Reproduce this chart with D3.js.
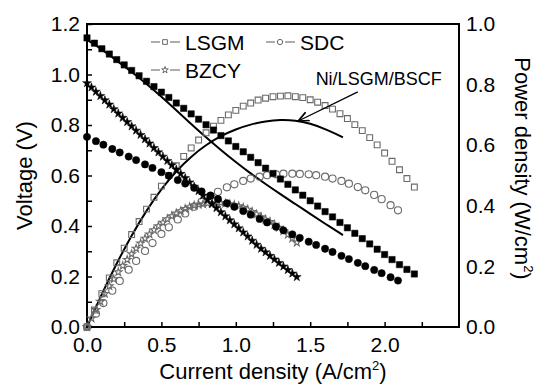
<!DOCTYPE html>
<html>
<head>
<meta charset="utf-8">
<script src="https://cdn.jsdelivr.net/npm/d3@7"></script>
<style>
  body { margin: 0; background: #fff; }
  svg text { font-family: "Liberation Sans", Arial, sans-serif; fill: #000; }
</style>
</head>
<body>
<div id="chart_container"></div>
<script>
// data (current density in A/cm2)
var lsgmI = [0, 0.05, 0.1, 0.15, 0.2, 0.25, 0.3, 0.35, 0.4, 0.45, 0.5, 0.55, 0.6, 0.65, 0.7, 0.75, 0.8, 0.85, 0.9, 0.95,
    1.0, 1.05, 1.1, 1.15, 1.2, 1.25, 1.3, 1.35, 1.4, 1.45, 1.5, 1.55, 1.6, 1.65, 1.7, 1.75, 1.8, 1.85, 1.9, 1.95,
    2.0, 2.05, 2.1, 2.15, 2.2];
var lsgmV = [1.145, 1.124, 1.102, 1.081, 1.059, 1.038, 1.016, 0.995, 0.973, 0.952, 0.930, 0.909, 0.887, 0.866, 0.844, 0.823, 0.801, 0.780, 0.758, 0.737,
    0.715, 0.694, 0.672, 0.651, 0.629, 0.608, 0.586, 0.565, 0.543, 0.522, 0.500, 0.479, 0.457, 0.436, 0.414, 0.393, 0.371, 0.350, 0.329, 0.308,
    0.287, 0.267, 0.247, 0.228, 0.210];
var lsgmP = [0, 0.056, 0.110, 0.162, 0.212, 0.260, 0.305, 0.348, 0.389, 0.428, 0.465, 0.500, 0.532, 0.563, 0.591, 0.617, 0.641, 0.663, 0.682, 0.700,
    0.715, 0.729, 0.739, 0.749, 0.755, 0.760, 0.762, 0.763, 0.760, 0.757, 0.750, 0.742, 0.731, 0.719, 0.704, 0.688, 0.668, 0.648, 0.625, 0.601,
    0.574, 0.547, 0.519, 0.490, 0.462];

var sdcI = [0, 0.06, 0.11, 0.17, 0.22, 0.28, 0.33, 0.39, 0.44, 0.5, 0.55, 0.61, 0.66, 0.72, 0.77, 0.83, 0.88, 0.94, 0.99, 1.05,
    1.1, 1.16, 1.21, 1.27, 1.32, 1.38, 1.43, 1.49, 1.54, 1.6, 1.65, 1.71, 1.76, 1.82, 1.87, 1.93, 1.98, 2.04, 2.09];
var sdcV = [0.753, 0.736, 0.722, 0.705, 0.691, 0.675, 0.661, 0.644, 0.630, 0.613, 0.599, 0.582, 0.568, 0.551, 0.537, 0.521, 0.507, 0.490, 0.476, 0.459,
    0.445, 0.428, 0.414, 0.397, 0.383, 0.367, 0.353, 0.338, 0.325, 0.310, 0.297, 0.282, 0.269, 0.254, 0.241, 0.226, 0.213, 0.197, 0.184];
var sdcP = [0, 0.044, 0.079, 0.120, 0.152, 0.189, 0.218, 0.251, 0.277, 0.307, 0.329, 0.355, 0.375, 0.397, 0.413, 0.432, 0.446, 0.461, 0.471, 0.482,
    0.490, 0.496, 0.501, 0.504, 0.506, 0.506, 0.505, 0.504, 0.501, 0.496, 0.490, 0.482, 0.473, 0.462, 0.451, 0.436, 0.422, 0.402, 0.385];

var bzcyI = [0, 0.03, 0.06, 0.09, 0.12, 0.15, 0.18, 0.21, 0.24, 0.27, 0.3, 0.33, 0.36, 0.39, 0.42, 0.45, 0.48, 0.51, 0.54, 0.57,
    0.6, 0.63, 0.66, 0.69, 0.72, 0.75, 0.78, 0.81, 0.84, 0.87, 0.9, 0.93, 0.96, 0.99, 1.02, 1.05, 1.08, 1.11, 1.14, 1.17,
    1.2, 1.23, 1.26, 1.29, 1.32, 1.35, 1.38, 1.41];
var bzcyV = [0.966, 0.949, 0.932, 0.915, 0.898, 0.881, 0.863, 0.846, 0.829, 0.812, 0.795, 0.778, 0.761, 0.744, 0.727, 0.709, 0.692, 0.675, 0.658, 0.641,
    0.624, 0.607, 0.590, 0.573, 0.556, 0.539, 0.521, 0.504, 0.487, 0.471, 0.455, 0.439, 0.423, 0.407, 0.391, 0.375, 0.359, 0.342, 0.326, 0.310,
    0.296, 0.282, 0.268, 0.254, 0.240, 0.226, 0.212, 0.198];
var bzcyP = [0, 0.029, 0.057, 0.084, 0.110, 0.135, 0.158, 0.181, 0.202, 0.222, 0.241, 0.259, 0.276, 0.292, 0.306, 0.320, 0.333, 0.345, 0.356, 0.366,
    0.375, 0.383, 0.390, 0.396, 0.401, 0.404, 0.406, 0.408, 0.409, 0.410, 0.410, 0.408, 0.406, 0.403, 0.399, 0.394, 0.388, 0.380, 0.372, 0.363,
    0.355, 0.347, 0.338, 0.328, 0.317, 0.305, 0.293, 0.279];

var niI = [0, 0.1, 0.2, 0.3, 0.4, 0.5, 0.6, 0.7, 0.8, 0.9, 1.0, 1.1, 1.2, 1.3, 1.4, 1.5, 1.6, 1.72];
var niV = [1.137, 1.100, 1.055, 1.010, 0.963, 0.912, 0.858, 0.804, 0.751, 0.701, 0.653, 0.608, 0.566, 0.526, 0.487, 0.448, 0.409, 0.364];
var niP = [0, 0.110, 0.211, 0.303, 0.385, 0.456, 0.515, 0.563, 0.601, 0.631, 0.653, 0.669, 0.679, 0.684, 0.682, 0.672, 0.654, 0.626];

var xTicks = [0, 0.5, 1.0, 1.5, 2.0];
var xMinor = [0.25, 0.75, 1.25, 1.75, 2.25];
var yTicks = [0, 0.2, 0.4, 0.6, 0.8, 1.0, 1.2];
var yMinor = [0.1, 0.3, 0.5, 0.7, 0.9, 1.1];
var pTicks = [0, 0.2, 0.4, 0.6, 0.8, 1.0];

var margin = {top: 24, right: 78, bottom: 57, left: 87},
    width = 537 - margin.left - margin.right,
    height = 384 - margin.top - margin.bottom;

var gray = "#6a6a6a";

var svg = d3.select("#chart_container").append("svg")
    .attr("width", 537)
    .attr("height", 384)
  .append("g")
    .attr("transform", "translate(" + margin.left + "," + margin.top + ")");

var x = d3.scaleLinear().domain([0, 2.5]).range([0, width]);
var yV = d3.scaleLinear().domain([0, 1.2]).range([height, 0]);
var yP = d3.scaleLinear().domain([0, 1.0]).range([height, 0]);

function zip(a, b) { return a.map(function(d, i) { return [d, b[i]]; }); }

// axes (ticks point inward)
var fmt = d3.format(".1f");
svg.append("g")
    .attr("transform", "translate(0," + height + ")")
    .call(d3.axisBottom(x).tickValues(xTicks).tickFormat(fmt).tickSize(-5).tickPadding(10))
    .call(function(g) { g.select(".domain").remove(); });
svg.append("g")
    .attr("transform", "translate(0," + height + ")")
    .call(d3.axisBottom(x).tickValues(xMinor).tickFormat("").tickSize(-5))
    .call(function(g) { g.select(".domain").remove(); });
svg.append("g")
    .call(d3.axisLeft(yV).tickValues(yTicks).tickFormat(fmt).tickSize(-5).tickPadding(7))
    .call(function(g) { g.select(".domain").remove(); });
svg.append("g")
    .call(d3.axisLeft(yV).tickValues(yMinor).tickFormat("").tickSize(-5))
    .call(function(g) { g.select(".domain").remove(); });
svg.append("g")
    .attr("transform", "translate(" + width + ",0)")
    .call(d3.axisRight(yP).tickValues(pTicks).tickFormat(fmt).tickSize(0).tickPadding(7))
    .call(function(g) { g.select(".domain").remove(); });

svg.selectAll(".tick line").attr("stroke", "#000").attr("stroke-width", 1.5);
svg.selectAll(".tick text").style("font-size", "21px").attr("fill", "#000");

svg.append("rect")
    .attr("width", width).attr("height", height)
    .attr("fill", "none").attr("stroke", "#000").attr("stroke-width", 2);

// axis titles
var xt = svg.append("text")
    .attr("x", width / 2).attr("y", height + 52)
    .style("text-anchor", "middle").style("font-size", "22px")
    .text("Current density (A/cm");
xt.append("tspan").attr("dy", -9).style("font-size", "13px").text("2");
xt.append("tspan").attr("dy", 9).text(")");

svg.append("text")
    .attr("transform", "rotate(-90)")
    .attr("x", -height / 2).attr("y", -55)
    .style("text-anchor", "middle").style("font-size", "22px")
    .text("Voltage (V)");

var pt = svg.append("text")
    .attr("transform", "translate(" + (width + 56) + "," + (height / 2 - 7) + ") rotate(90)")
    .style("text-anchor", "middle").style("font-size", "22px")
    .text("Power density (W/cm");
pt.append("tspan").attr("dy", -9).style("font-size", "13px").text("2");
pt.append("tspan").attr("dy", 9).text(")");

// Ni/LSGM/BSCF curves
var line = d3.line().curve(d3.curveBasis);
svg.append("path")
    .attr("d", line(zip(niI, niV).map(function(d) { return [x(d[0]), yV(d[1])]; })))
    .attr("fill", "none").attr("stroke", "#000").attr("stroke-width", 2);
svg.append("path")
    .attr("d", line(zip(niI, niP).map(function(d) { return [x(d[0]), yP(d[1])]; })))
    .attr("fill", "none").attr("stroke", "#000").attr("stroke-width", 2);

// markers
function addMarkers(xs, ys, yScale, type, size, filled) {
    var sym = d3.symbol().type(type).size(size);
    svg.append("g").selectAll("path")
        .data(zip(xs, ys)).enter()
        .append("path")
            .attr("transform", function(d) { return "translate(" + x(d[0]) + "," + yScale(d[1]) + ")"; })
            .attr("d", sym)
            .attr("fill", filled ? "#000" : "none")
            .attr("stroke", filled ? "#000" : gray)
            .attr("stroke-width", filled ? 0.5 : 1.1);
}

addMarkers(lsgmI, lsgmP, yP, d3.symbolSquare, 34, false);
addMarkers(sdcI, sdcP, yP, d3.symbolCircle, 40, false);
addMarkers(bzcyI, bzcyP, yP, d3.symbolStar, 18, false);
addMarkers(lsgmI, lsgmV, yV, d3.symbolSquare, 40, true);
addMarkers(sdcI, sdcV, yV, d3.symbolCircle, 42, true);
addMarkers(bzcyI, bzcyV, yV, d3.symbolStar, 24, true);

// annotation arrow
svg.append("defs").append("marker")
    .attr("id", "arrow").attr("viewBox", "0 0 10 10")
    .attr("refX", 9).attr("refY", 5)
    .attr("markerWidth", 9).attr("markerHeight", 9)
    .attr("orient", "auto")
  .append("path").attr("d", "M0,1 L9,5 L0,9").attr("fill", "none").attr("stroke", "#000").attr("stroke-width", 1.4);

svg.append("line")
    .attr("x1", x(1.82)).attr("y1", yP(0.776))
    .attr("x2", x(1.42)).attr("y2", yP(0.68))
    .attr("stroke", "#000").attr("stroke-width", 1.3)
    .attr("marker-end", "url(#arrow)");
svg.append("text")
    .attr("x", x(1.96)).attr("y", yP(0.80))
    .style("text-anchor", "middle").style("font-size", "18px")
    .text("Ni/LSGM/BSCF");

// legend
var legend = [
    {name: "LSGM", type: d3.symbolSquare, size: 22, x: 64, y: 18},
    {name: "SDC", type: d3.symbolCircle, size: 22, x: 179, y: 18},
    {name: "BZCY", type: d3.symbolStar, size: 14, x: 64, y: 46}
];
var lg = svg.selectAll(".legend").data(legend).enter()
    .append("g").attr("class", "legend")
    .attr("transform", function(d) { return "translate(" + d.x + "," + d.y + ")"; });
lg.append("line").attr("x1", 0).attr("x2", 9).attr("stroke", gray).attr("stroke-width", 1.1);
lg.append("line").attr("x1", 19).attr("x2", 29).attr("stroke", gray).attr("stroke-width", 1.1);
lg.append("path")
    .attr("transform", "translate(14,0)")
    .attr("d", function(d) { return d3.symbol().type(d.type).size(d.size)(); })
    .attr("fill", "none").attr("stroke", gray).attr("stroke-width", 1);
lg.append("text")
    .attr("x", 34).attr("dy", "0.36em")
    .style("font-size", "21px")
    .text(function(d) { return d.name; });
</script>
</body>
</html>
